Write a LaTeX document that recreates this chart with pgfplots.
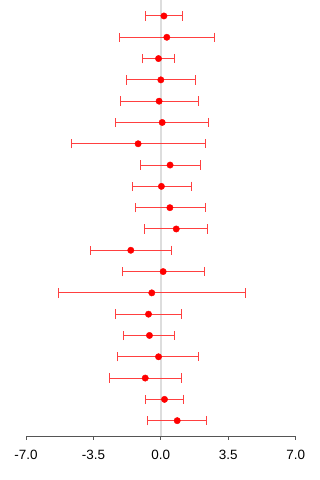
\documentclass[border=0pt]{standalone}
\usepackage{pgfplots}
\pgfplotsset{compat=1.18}
\usepackage{pgfplotstable}
\usepackage{fontspec}
\setmainfont{Liberation Sans}

\definecolor{ptred}{RGB}{255,0,0}
\definecolor{barred}{RGB}{255,64,64}
\definecolor{zeroline}{RGB}{221,221,221}
\definecolor{axisgray}{RGB}{85,85,85}

% estimate, row position, lower and upper interval bounds
\pgfplotstableread{
x     y   lo     hi
0.16  20  -0.81  1.14
0.31  19  -2.16  2.77
-0.12 18  -0.97  0.71
0.00  17  -1.78  1.78
-0.09 16  -2.11  1.96
0.07  15  -2.35  2.48
-1.18 14  -4.66  2.30
0.48  13  -1.07  2.08
0.03  12  -1.47  1.58
0.47  11  -1.33  2.30
0.80  10  -0.85  2.42
-1.56 9   -3.65  0.54
0.12  8   -1.97  2.25
-0.47 7   -5.30  4.38
-0.64 6   -2.37  1.05
-0.59 5   -1.92  0.71
-0.12 4   -2.27  1.97
-0.81 3   -2.68  1.09
0.19  2   -0.81  1.19
0.85  1   -0.67  2.37
}\forestdata

\begin{document}
\begin{tikzpicture}
\useasboundingbox (-26bp,-44bp) rectangle (294bp,436bp);
\begin{axis}[
  scale only axis,
  width=269.67bp, height=436bp,
  xmin=-7, xmax=7,
  ymin=0.28, ymax=20.75,
  axis x line=bottom,
  axis y line=none,
  axis line style={axisgray, line width=0.9bp, -},
  xtick={-7,-3.5,0,3.5,7},
  xticklabels={-7.0,-3.5,0.0,3.5,7.0},
  tick style={axisgray, line width=0.9bp},
  major tick length=3.5bp,
  xtick align=outside,
  tick label style={font=\fontsize{13.5}{15}\selectfont, text=black},
  xticklabel style={yshift=-7bp},
  clip=false,
]
  % reference line at zero
  \addplot[zeroline, line width=2bp, forget plot] coordinates {(0,0.28) (0,20.75)};

  \addplot[
    only marks,
    mark=*,
    mark size=3.2bp,
    mark options={fill=ptred, draw=ptred},
    error bars/.cd,
      x dir=both, x explicit,
      error bar style={barred, line width=1bp},
      error mark options={barred, line width=1bp, mark size=4.7bp, rotate=90},
  ] table[
    x=x, y=y,
    x error plus expr=\thisrow{hi}-\thisrow{x},
    x error minus expr=\thisrow{x}-\thisrow{lo},
  ] {\forestdata};
\end{axis}
\end{tikzpicture}
\end{document}
